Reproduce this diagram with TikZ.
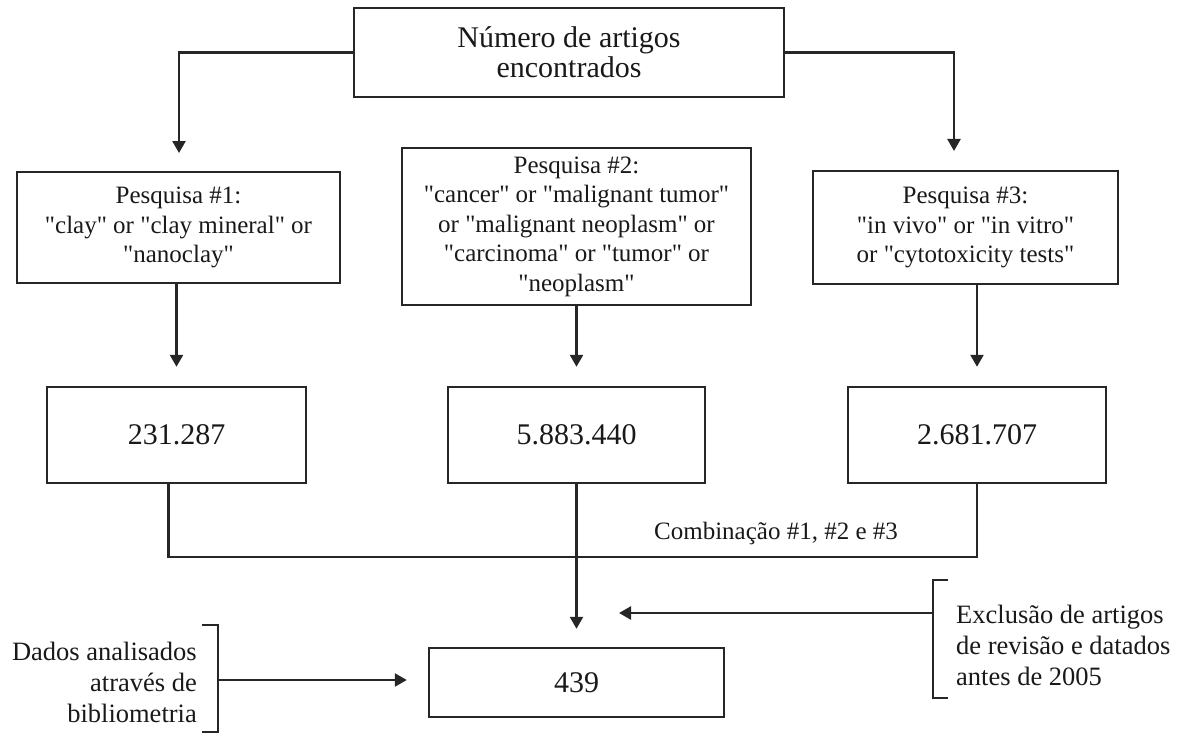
\documentclass[tikz,border=0pt]{standalone}
\usepackage{fontspec}
\setmainfont{Liberation Serif}[Ligatures=TeXOff]
\usetikzlibrary{arrows.meta, positioning}
\newcommand{\txtbox}{\fontsize{25pt}{29.5pt}\selectfont}
\newcommand{\txtbig}{\fontsize{30pt}{30pt}\selectfont}
\newcommand{\txtside}{\fontsize{26.5pt}{31pt}\selectfont}
\tikzset{
  caixa/.style={draw=black!85, line width=2.4pt, inner sep=0pt, align=center, text=black!90},
  seta/.style={draw=black!85, line width=2.4pt, -{Triangle[width=13pt,length=12pt]}},
  linha/.style={draw=black!85, line width=2.4pt},
  rotulo/.style={inner sep=0pt, text=black!90},
}

\begin{document}
\begin{tikzpicture}[x=1pt,y=-1pt]
    \useasboundingbox (0,0) rectangle (1188,733);
    % caixas
    \node[caixa, minimum width=430pt, minimum height=89pt, font=\txtbig] (total) at (569,52.5) {Número de artigos\\encontrados};
    \node[caixa, minimum width=323pt, minimum height=111pt, font=\txtbox] (p1) at (178.5,227.5) {Pesquisa \#1:\\"clay" or "clay mineral" or\\"nanoclay"};
    \node[caixa, minimum width=349pt, minimum height=157pt, font=\txtbox] (p2) at (576.5,226.5) {Pesquisa \#2:\\"cancer" or "malignant tumor"\\or "malignant neoplasm" or\\"carcinoma" or "tumor" or\\"neoplasm"};
    \node[caixa, minimum width=305pt, minimum height=113pt, font=\txtbox] (p3) at (965.5,227.5) {Pesquisa \#3:\\"in vivo" or "in vitro"\\or "cytotoxicity tests"};
    \node[caixa, minimum width=259pt, minimum height=96pt, font=\txtbig] (n1) at (176.5,435) {231.287};
    \node[caixa, minimum width=257pt, minimum height=96pt, font=\txtbig] (n2) at (576.5,435) {5.883.440};
    \node[caixa, minimum width=258pt, minimum height=96pt, font=\txtbig] (n3) at (977,435) {2.681.707};
    \node[caixa, minimum width=295pt, minimum height=69pt, font=\txtbig] (fim) at (576.5,682.5) {439};
    % textos laterais
    \node[rotulo, font=\txtbox] (comb) at (776,533) {Combinação \#1, \#2 e \#3};
    \node[rotulo, font=\txtside, align=left, anchor=west] (excl) at (956,645) {Exclusão de artigos\\de revisão e datados\\antes de 2005};
    \node[rotulo, font=\txtside, align=right, anchor=east] (dados) at (197,682) {Dados analisados\\através de\\bibliometria};
    % pontos livres
    \coordinate (t1) at (179,153);
    \coordinate (t3) at (954,151);
    \coordinate (jr) at (977,557);
    \coordinate (ex) at (933,613);
    \coordinate (exfim) at (619,613);
    \coordinate (da) at (218,680);
    % setas
    \draw[seta] (total.west) -| (t1);
    \draw[seta] (total.east) -| (t3);
    \draw[seta] (p1.south -| n1.north) -- ([yshift=19pt]n1.north);
    \draw[seta] (p2.south) -- ([yshift=19pt]n2.north);
    \draw[seta] (p3.south -| n3.north) -- ([yshift=19pt]n3.north);
    \draw[linha] ([xshift=-8pt]n1.south) |- (jr) -- (n3.south);
    \draw[seta] (n2.south) -- ([yshift=18pt]fim.north);
    \draw[linha] (948,580) -- (933,580) -- (933,698) -- (948,698);
    \draw[seta] (ex) -- (exfim);
    \draw[linha] (202,625) -- (218,625) -- (218,732) -- (202,732);
    \draw[seta] (da) -- ([xshift=-21pt]fim.west |- da);
\end{tikzpicture}
\end{document}
